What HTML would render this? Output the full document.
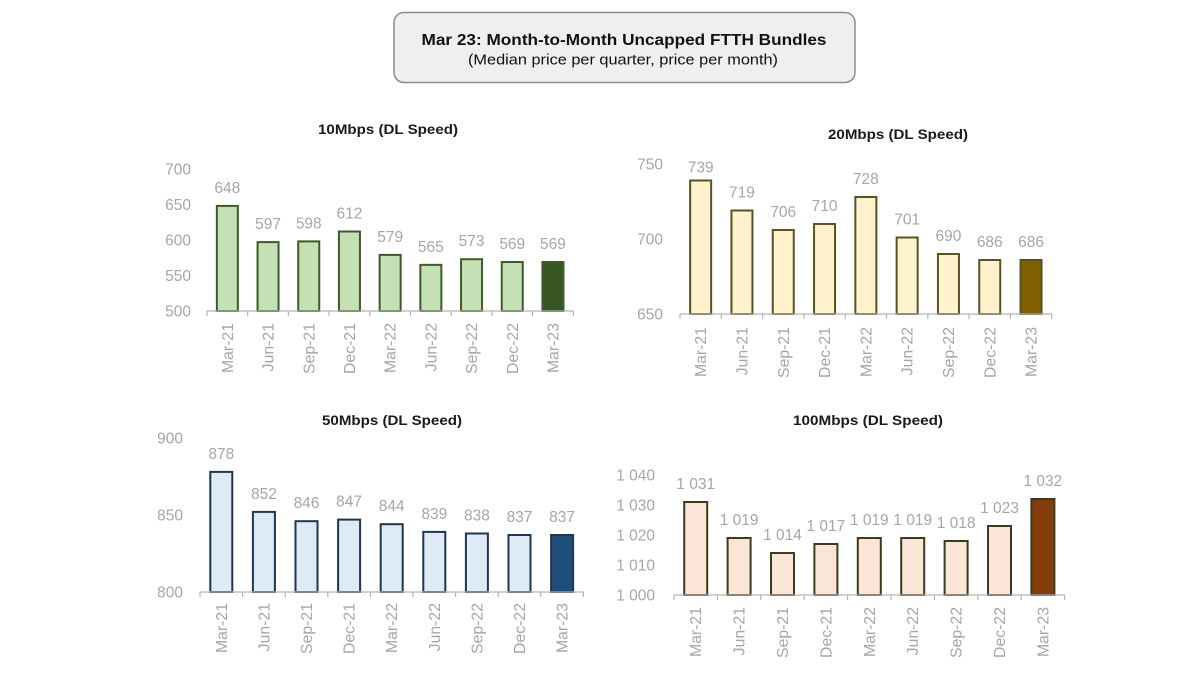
<!DOCTYPE html>
<html><head><meta charset="utf-8"><style>
html,body{margin:0;padding:0;background:#fff;}
svg{display:block;}
text{font-family:"Liberation Sans",Arial,sans-serif;}
.t{font-weight:bold;font-size:14px;fill:#1a1a1a;text-anchor:middle;}
.v{font-size:15.5px;fill:#a6a6a6;text-anchor:middle;}
.y{font-size:15.5px;fill:#a6a6a6;text-anchor:end;}
.x{font-size:15.8px;fill:#a6a6a6;text-anchor:end;}
.ax{stroke:#b3b3b3;stroke-width:1.2;fill:none;}
</style></head><body>
<svg width="1200" height="675" viewBox="0 0 1200 675" xmlns="http://www.w3.org/2000/svg">
<rect x="0" y="0" width="1200" height="675" fill="#fff"/>
<!-- Title box -->
<rect x="394" y="12.5" width="461" height="70" rx="10" ry="10" fill="#efefef" stroke="#8c8c8c" stroke-width="1.5"/>
<text x="624" y="45" style="font-weight:bold;font-size:15.5px;fill:#111;text-anchor:middle" textLength="405" lengthAdjust="spacingAndGlyphs">Mar 23: Month-to-Month Uncapped FTTH Bundles</text>
<text x="623" y="64.5" style="font-size:14.5px;fill:#111;text-anchor:middle" textLength="310" lengthAdjust="spacingAndGlyphs">(Median price per quarter, price per month)</text>

<!-- Chart 1: 10Mbps -->
<text class="t" x="388" y="134" textLength="140" lengthAdjust="spacingAndGlyphs">10Mbps (DL Speed)</text>
<g>
<text class="y" x="191" y="174.5">700</text>
<text class="y" x="191" y="210">650</text>
<text class="y" x="191" y="245.5">600</text>
<text class="y" x="191" y="281">550</text>
<text class="y" x="191" y="316.5">500</text>
<g fill="#c5e0b4" stroke="#3d5a29" stroke-width="2">
<rect x="216.85" y="205.9" width="21" height="105.1"/>
<rect x="257.55" y="242.1" width="21" height="68.9"/>
<rect x="298.25" y="241.4" width="21" height="69.6"/>
<rect x="338.95" y="231.5" width="21" height="79.5"/>
<rect x="379.65" y="254.9" width="21" height="56.1"/>
<rect x="420.35" y="264.85" width="21" height="46.15"/>
<rect x="461.05" y="259.2" width="21" height="51.8"/>
<rect x="501.75" y="262" width="21" height="49"/>
<rect x="542.45" y="262" width="21" height="49" fill="#375623"/>
</g>
<path class="ax" d="M207 311H573.3M207 311v5M247.7 311v5M288.4 311v5M329.1 311v5M369.8 311v5M410.5 311v5M451.2 311v5M491.9 311v5M532.6 311v5M573.3 311v5"/>
<text class="v" x="227.35" y="192.9">648</text>
<text class="v" x="268.05" y="229.1">597</text>
<text class="v" x="308.75" y="228.4">598</text>
<text class="v" x="349.45" y="218.5">612</text>
<text class="v" x="390.15" y="241.9">579</text>
<text class="v" x="430.85" y="251.85">565</text>
<text class="v" x="471.55" y="246.2">573</text>
<text class="v" x="512.25" y="249">569</text>
<text class="v" x="552.95" y="249">569</text>
<text class="x" transform="translate(232.85,323) rotate(-90)">Mar-21</text>
<text class="x" transform="translate(273.55,323) rotate(-90)">Jun-21</text>
<text class="x" transform="translate(314.25,323) rotate(-90)">Sep-21</text>
<text class="x" transform="translate(354.95,323) rotate(-90)">Dec-21</text>
<text class="x" transform="translate(395.65,323) rotate(-90)">Mar-22</text>
<text class="x" transform="translate(436.35,323) rotate(-90)">Jun-22</text>
<text class="x" transform="translate(477.05,323) rotate(-90)">Sep-22</text>
<text class="x" transform="translate(517.75,323) rotate(-90)">Dec-22</text>
<text class="x" transform="translate(558.45,323) rotate(-90)">Mar-23</text>
</g>

<!-- Chart 2: 20Mbps -->
<text class="t" x="898" y="139" textLength="140" lengthAdjust="spacingAndGlyphs">20Mbps (DL Speed)</text>
<g>
<text class="y" x="663" y="169.5">750</text>
<text class="y" x="663" y="244.5">700</text>
<text class="y" x="663" y="319.5">650</text>
<g fill="#fff2cc" stroke="#595223" stroke-width="2">
<rect x="690.15" y="180.5" width="21" height="133.5"/>
<rect x="731.45" y="210.5" width="21" height="103.5"/>
<rect x="772.75" y="230" width="21" height="84"/>
<rect x="814.05" y="224" width="21" height="90"/>
<rect x="855.35" y="197" width="21" height="117"/>
<rect x="896.65" y="237.5" width="21" height="76.5"/>
<rect x="937.95" y="254" width="21" height="60"/>
<rect x="979.25" y="260" width="21" height="54"/>
<rect x="1020.55" y="260" width="21" height="54" fill="#7f6000"/>
</g>
<path class="ax" d="M680 314H1051.7M680 314v5M721.3 314v5M762.6 314v5M803.9 314v5M845.2 314v5M886.5 314v5M927.8 314v5M969.1 314v5M1010.4 314v5M1051.7 314v5"/>
<text class="v" x="700.65" y="172.5">739</text>
<text class="v" x="741.95" y="197.5">719</text>
<text class="v" x="783.25" y="217">706</text>
<text class="v" x="824.55" y="211">710</text>
<text class="v" x="865.85" y="184">728</text>
<text class="v" x="907.15" y="224.5">701</text>
<text class="v" x="948.45" y="241">690</text>
<text class="v" x="989.75" y="247">686</text>
<text class="v" x="1031.05" y="247">686</text>
<text class="x" transform="translate(706.15,327) rotate(-90)">Mar-21</text>
<text class="x" transform="translate(747.45,327) rotate(-90)">Jun-21</text>
<text class="x" transform="translate(788.75,327) rotate(-90)">Sep-21</text>
<text class="x" transform="translate(830.05,327) rotate(-90)">Dec-21</text>
<text class="x" transform="translate(871.35,327) rotate(-90)">Mar-22</text>
<text class="x" transform="translate(912.65,327) rotate(-90)">Jun-22</text>
<text class="x" transform="translate(953.95,327) rotate(-90)">Sep-22</text>
<text class="x" transform="translate(995.25,327) rotate(-90)">Dec-22</text>
<text class="x" transform="translate(1036.55,327) rotate(-90)">Mar-23</text>
</g>

<!-- Chart 3: 50Mbps -->
<text class="t" x="392" y="425" textLength="140" lengthAdjust="spacingAndGlyphs">50Mbps (DL Speed)</text>
<g>
<text class="y" x="183" y="443.5">900</text>
<text class="y" x="183" y="520.5">850</text>
<text class="y" x="183" y="597.5">800</text>
<g fill="#deebf7" stroke="#1f3550" stroke-width="2">
<rect x="210.3" y="471.9" width="22" height="120.1"/>
<rect x="252.9" y="511.9" width="22" height="80.1"/>
<rect x="295.5" y="521.2" width="22" height="70.8"/>
<rect x="338.1" y="519.6" width="22" height="72.4"/>
<rect x="380.7" y="524.2" width="22" height="67.8"/>
<rect x="423.3" y="531.9" width="22" height="60.1"/>
<rect x="465.9" y="533.5" width="22" height="58.5"/>
<rect x="508.5" y="535" width="22" height="57"/>
<rect x="551.1" y="535" width="22" height="57" fill="#1f4e79"/>
</g>
<path class="ax" d="M200 592H583.4M200 592v5M242.6 592v5M285.2 592v5M327.8 592v5M370.4 592v5M413 592v5M455.6 592v5M498.2 592v5M540.8 592v5M583.4 592v5"/>
<text class="v" x="221.3" y="458.9">878</text>
<text class="v" x="263.9" y="498.9">852</text>
<text class="v" x="306.5" y="508.2">846</text>
<text class="v" x="349.1" y="506.6">847</text>
<text class="v" x="391.7" y="511.2">844</text>
<text class="v" x="434.3" y="518.9">839</text>
<text class="v" x="476.9" y="520.5">838</text>
<text class="v" x="519.5" y="522">837</text>
<text class="v" x="562.1" y="522">837</text>
<text class="x" transform="translate(226.8,603) rotate(-90)">Mar-21</text>
<text class="x" transform="translate(269.4,603) rotate(-90)">Jun-21</text>
<text class="x" transform="translate(312,603) rotate(-90)">Sep-21</text>
<text class="x" transform="translate(354.6,603) rotate(-90)">Dec-21</text>
<text class="x" transform="translate(397.2,603) rotate(-90)">Mar-22</text>
<text class="x" transform="translate(439.8,603) rotate(-90)">Jun-22</text>
<text class="x" transform="translate(482.4,603) rotate(-90)">Sep-22</text>
<text class="x" transform="translate(525,603) rotate(-90)">Dec-22</text>
<text class="x" transform="translate(567.6,603) rotate(-90)">Mar-23</text>
</g>

<!-- Chart 4: 100Mbps -->
<text class="t" x="868" y="425" textLength="150" lengthAdjust="spacingAndGlyphs">100Mbps (DL Speed)</text>
<g>
<text class="y" x="655" y="480.5">1 040</text>
<text class="y" x="655" y="510.5">1 030</text>
<text class="y" x="655" y="540.5">1 020</text>
<text class="y" x="655" y="570.5">1 010</text>
<text class="y" x="655" y="600.5">1 000</text>
<g fill="#fbe5d6" stroke="#3b3b1f" stroke-width="2">
<rect x="684.2" y="502" width="23" height="93"/>
<rect x="727.6" y="538" width="23" height="57"/>
<rect x="771" y="553" width="23" height="42"/>
<rect x="814.4" y="544" width="23" height="51"/>
<rect x="857.8" y="538" width="23" height="57"/>
<rect x="901.2" y="538" width="23" height="57"/>
<rect x="944.6" y="541" width="23" height="54"/>
<rect x="988" y="526" width="23" height="69"/>
<rect x="1031.4" y="499" width="23" height="96" fill="#843c0c"/>
</g>
<path class="ax" d="M674 595H1064.6M674 595v5M717.4 595v5M760.8 595v5M804.2 595v5M847.6 595v5M891 595v5M934.4 595v5M977.8 595v5M1021.2 595v5M1064.6 595v5"/>
<text class="v" x="695.7" y="489">1 031</text>
<text class="v" x="739.1" y="525">1 019</text>
<text class="v" x="782.5" y="540">1 014</text>
<text class="v" x="825.9" y="531">1 017</text>
<text class="v" x="869.3" y="525">1 019</text>
<text class="v" x="912.7" y="525">1 019</text>
<text class="v" x="956.1" y="528">1 018</text>
<text class="v" x="999.5" y="513">1 023</text>
<text class="v" x="1042.9" y="486">1 032</text>
<text class="x" transform="translate(701.2,607) rotate(-90)">Mar-21</text>
<text class="x" transform="translate(744.6,607) rotate(-90)">Jun-21</text>
<text class="x" transform="translate(788,607) rotate(-90)">Sep-21</text>
<text class="x" transform="translate(831.4,607) rotate(-90)">Dec-21</text>
<text class="x" transform="translate(874.8,607) rotate(-90)">Mar-22</text>
<text class="x" transform="translate(918.2,607) rotate(-90)">Jun-22</text>
<text class="x" transform="translate(961.6,607) rotate(-90)">Sep-22</text>
<text class="x" transform="translate(1005,607) rotate(-90)">Dec-22</text>
<text class="x" transform="translate(1048.4,607) rotate(-90)">Mar-23</text>
</g>
</svg>
</body></html>
